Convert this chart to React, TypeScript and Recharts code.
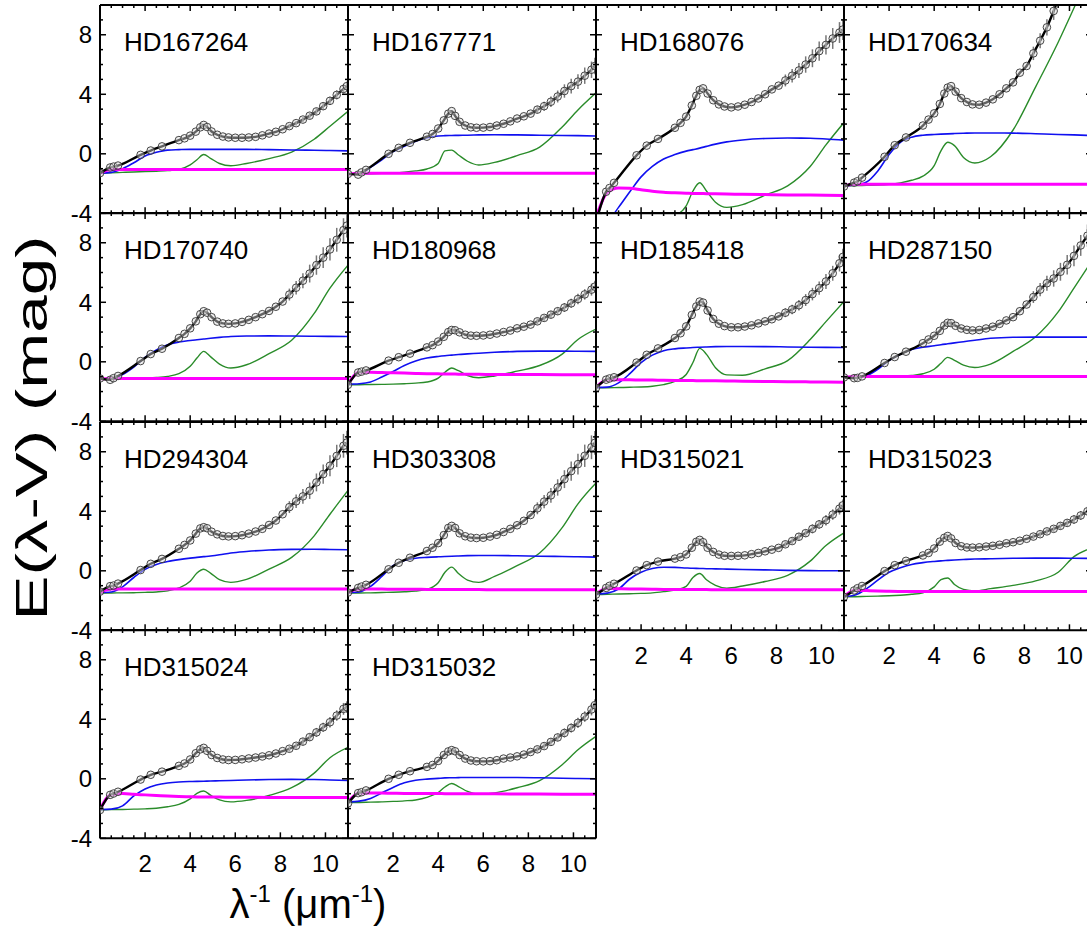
import { ComposedChart, Line, Scatter, XAxis, YAxis, ReferenceLine } from "recharts";

const stars = [
  "HD167264", "HD167771", "HD168076", "HD170634",
  "HD170740", "HD180968", "HD185418", "HD287150",
  "HD294304", "HD303308", "HD315021", "HD315023",
  "HD315024", "HD315032",
];

// wavenumbers of the observed points (circles) and of the model components
const xObs = [0, 0.45, 0.6, 0.8, 1.8, 2.25, 2.75, 3.5, 3.75, 4.0, 4.25, 4.45, 4.6, 4.75, 4.95, 5.2, 5.45, 5.7, 6.0, 6.3, 6.6, 6.9, 7.2, 7.5, 7.8, 8.1, 8.4, 8.7, 9.0, 9.3, 9.6, 9.9, 10.2, 10.5, 10.8, 10.95];
const xFit = [0, 0.5, 1, 1.5, 2, 2.5, 3, 3.5, 4, 4.3, 4.6, 4.9, 5.3, 5.8, 6.5, 7.5, 8.5, 9.5, 10.2, 11];
// first index of the points that carry error bars (x >= 8.4)
const ERR_FROM = 26;

const obsVals = [
  [-1.3, -0.92, -0.86, -0.79, -0.07, 0.22, 0.5, 0.92, 1.04, 1.22, 1.49, 1.78, 1.94, 1.8, 1.5, 1.28, 1.16, 1.1, 1.08, 1.08, 1.1, 1.14, 1.24, 1.36, 1.48, 1.65, 1.86, 2.06, 2.3, 2.56, 2.85, 3.2, 3.56, 3.96, 4.36, 4.55],
  [-1.35, -1.4, -1.25, -1.08, 0.0, 0.4, 0.74, 1.15, 1.33, 1.7, 2.25, 2.7, 2.87, 2.55, 2.15, 1.9, 1.78, 1.75, 1.76, 1.8, 1.9, 2.02, 2.18, 2.37, 2.52, 2.7, 2.97, 3.2, 3.5, 3.85, 4.22, 4.55, 4.85, 5.25, 5.65, 5.9],
  [-4.6, -2.55, -2.3, -1.95, -0.1, 0.55, 1.0, 1.75, 2.08, 2.5, 3.25, 3.9, 4.3, 4.4, 4.05, 3.6, 3.32, 3.18, 3.12, 3.18, 3.3, 3.48, 3.72, 4.0, 4.33, 4.58, 4.93, 5.25, 5.6, 6.0, 6.42, 6.9, 7.32, 7.75, 8.15, 8.35],
  [-2.2, -1.94, -1.84, -1.6, -0.2, 0.58, 1.1, 1.9, 2.3, 2.72, 3.35, 4.05, 4.45, 4.55, 4.18, 3.74, 3.48, 3.32, 3.3, 3.44, 3.66, 4.0, 4.4, 4.8, 5.45, 5.9, 6.75, 7.6, 8.5, 9.6, 10.8, 11.6, 12.4, 13.2, 14.0, 14.4],
  [-1.12, -1.21, -1.1, -0.95, 0.05, 0.52, 0.88, 1.6, 1.88, 2.25, 2.72, 3.2, 3.4, 3.3, 3.0, 2.7, 2.58, 2.55, 2.58, 2.68, 2.82, 3.0, 3.2, 3.42, 3.7, 4.05, 4.52, 4.98, 5.45, 5.93, 6.5, 7.0, 7.55, 8.2, 8.85, 9.15],
  [-1.55, -0.72, -0.66, -0.58, 0.08, 0.31, 0.55, 0.97, 1.12, 1.36, 1.68, 2.0, 2.14, 2.12, 1.98, 1.82, 1.76, 1.75, 1.77, 1.82, 1.9, 2.0, 2.1, 2.25, 2.36, 2.5, 2.72, 2.95, 3.17, 3.4, 3.65, 3.93, 4.22, 4.53, 4.85, 5.05],
  [-1.75, -1.2, -1.12, -1.04, -0.05, 0.47, 0.9, 1.6, 1.92, 2.38, 3.15, 3.72, 4.05, 3.98, 3.45, 2.88, 2.56, 2.4, 2.32, 2.32, 2.37, 2.45, 2.58, 2.72, 2.86, 3.05, 3.3, 3.52, 3.8, 4.15, 4.55, 4.95, 5.4, 5.95, 6.62, 7.05],
  [-1.05, -1.1, -1.08, -0.98, -0.08, 0.32, 0.68, 1.25, 1.5, 1.75, 2.08, 2.44, 2.62, 2.6, 2.42, 2.24, 2.15, 2.11, 2.14, 2.24, 2.36, 2.55, 2.78, 3.0, 3.4, 3.85, 4.35, 4.85, 5.28, 5.6, 6.05, 6.52, 7.12, 7.82, 8.48, 8.85],
  [-1.4, -1.03, -0.99, -0.86, 0.05, 0.47, 0.8, 1.48, 1.74, 2.04, 2.5, 2.85, 2.93, 2.86, 2.63, 2.45, 2.34, 2.31, 2.33, 2.39, 2.5, 2.64, 2.82, 3.08, 3.38, 3.8, 4.28, 4.67, 5.0, 5.38, 5.94, 6.5, 7.06, 7.72, 8.4, 8.62],
  [-1.46, -1.15, -1.06, -0.94, 0.1, 0.54, 0.88, 1.33, 1.55, 1.86, 2.4, 2.88, 3.02, 2.88, 2.52, 2.32, 2.23, 2.2, 2.22, 2.3, 2.42, 2.61, 2.82, 3.06, 3.36, 3.75, 4.2, 4.65, 5.07, 5.6, 6.16, 6.7, 7.17, 7.73, 8.3, 8.6],
  [-1.6, -1.15, -1.01, -0.87, 0.02, 0.38, 0.62, 0.82, 0.92, 1.1, 1.55, 1.95, 2.08, 1.92, 1.55, 1.27, 1.09, 1.01, 1.0, 1.01, 1.04, 1.12, 1.2, 1.31, 1.42, 1.54, 1.78, 2.0, 2.29, 2.53, 2.82, 3.12, 3.4, 3.78, 4.18, 4.4],
  [-1.75, -1.32, -1.17, -1.02, -0.02, 0.38, 0.67, 1.03, 1.2, 1.5, 1.96, 2.22, 2.34, 2.18, 1.87, 1.65, 1.57, 1.56, 1.58, 1.63, 1.68, 1.75, 1.85, 1.92, 2.02, 2.15, 2.3, 2.46, 2.65, 2.82, 3.02, 3.22, 3.45, 3.72, 4.0, 4.15],
  [-2.1, -1.08, -0.99, -0.87, -0.05, 0.27, 0.48, 0.87, 1.03, 1.3, 1.72, 1.98, 2.08, 1.88, 1.6, 1.4, 1.3, 1.26, 1.27, 1.31, 1.37, 1.43, 1.5, 1.58, 1.7, 1.86, 2.02, 2.22, 2.5, 2.8, 3.12, 3.46, 3.8, 4.25, 4.7, 4.82],
  [-1.65, -0.96, -0.9, -0.78, 0.0, 0.27, 0.51, 0.8, 0.93, 1.2, 1.6, 1.84, 1.93, 1.85, 1.6, 1.36, 1.23, 1.18, 1.17, 1.19, 1.25, 1.36, 1.43, 1.51, 1.63, 1.8, 1.98, 2.2, 2.48, 2.78, 3.08, 3.42, 3.76, 4.18, 4.66, 4.95],
];

// error bars of the last ten points (x >= 8.4)
const errTail = [
  [0.15, 0.15, 0.18, 0.2, 0.22, 0.25, 0.28, 0.3, 0.3, 0.3],
  [0.25, 0.3, 0.35, 0.4, 0.45, 0.5, 0.5, 0.55, 0.55, 0.55],
  [0.4, 0.45, 0.5, 0.55, 0.6, 0.65, 0.65, 0.7, 0.7, 0.7],
  [0.45, 0.5, 0.55, 0.6, 0.65, 0.7, 0.7, 0.7, 0.7, 0.7],
  [0.4, 0.45, 0.5, 0.6, 0.65, 0.7, 0.75, 0.8, 0.8, 0.8],
  [0.2, 0.2, 0.25, 0.25, 0.3, 0.3, 0.35, 0.35, 0.4, 0.4],
  [0.3, 0.32, 0.35, 0.4, 0.42, 0.45, 0.5, 0.5, 0.55, 0.55],
  [0.4, 0.45, 0.5, 0.55, 0.6, 0.65, 0.7, 0.7, 0.75, 0.75],
  [0.4, 0.45, 0.5, 0.55, 0.6, 0.65, 0.7, 0.75, 0.8, 0.8],
  [0.4, 0.45, 0.5, 0.55, 0.6, 0.65, 0.7, 0.75, 0.8, 0.8],
  [0.2, 0.2, 0.25, 0.25, 0.3, 0.3, 0.35, 0.35, 0.4, 0.4],
  [0.18, 0.18, 0.2, 0.2, 0.25, 0.25, 0.28, 0.3, 0.3, 0.3],
  [0.2, 0.2, 0.25, 0.25, 0.3, 0.3, 0.35, 0.35, 0.4, 0.4],
  [0.2, 0.2, 0.25, 0.25, 0.3, 0.3, 0.35, 0.35, 0.4, 0.4],
];

const blueVals = [
  [-1.3, -1.25, -1.0, -0.6, -0.15, 0.1, 0.25, 0.28, 0.3, 0.3, 0.3, 0.3, 0.3, 0.3, 0.3, 0.28, 0.26, 0.24, 0.22, 0.2],
  [-1.37, -1.35, -0.9, -0.4, 0.15, 0.5, 0.85, 1.08, 1.2, 1.22, 1.23, 1.24, 1.25, 1.27, 1.28, 1.27, 1.25, 1.23, 1.22, 1.2],
  [-4.6, -4.5, -3.6, -2.55, -1.55, -0.85, -0.35, -0.05, 0.18, 0.28, 0.38, 0.5, 0.65, 0.8, 0.93, 1.03, 1.06, 1.05, 1.0, 0.92],
  [-2.15, -2.1, -1.9, -1.15, -0.05, 0.77, 1.12, 1.25, 1.3, 1.32, 1.34, 1.36, 1.38, 1.4, 1.4, 1.39, 1.35, 1.3, 1.27, 1.23],
  [-1.14, -1.12, -0.85, -0.35, 0.3, 0.8, 1.15, 1.33, 1.43, 1.48, 1.53, 1.58, 1.64, 1.7, 1.73, 1.74, 1.73, 1.72, 1.71, 1.7],
  [-1.5, -1.47, -1.35, -1.02, -0.65, -0.25, 0.05, 0.25, 0.36, 0.41, 0.45, 0.49, 0.53, 0.58, 0.64, 0.7, 0.72, 0.72, 0.71, 0.7],
  [-1.72, -1.7, -1.42, -0.8, -0.05, 0.45, 0.75, 0.87, 0.93, 0.96, 0.98, 1.0, 1.02, 1.03, 1.03, 1.02, 1.0, 0.98, 0.97, 0.96],
  [-1.05, -1.02, -0.92, -0.5, 0.1, 0.5, 0.82, 0.98, 1.08, 1.15, 1.21, 1.27, 1.35, 1.45, 1.58, 1.65, 1.66, 1.66, 1.66, 1.66],
  [-1.46, -1.42, -1.08, -0.45, 0.1, 0.43, 0.62, 0.75, 0.85, 0.9, 0.95, 1.0, 1.08, 1.2, 1.3, 1.4, 1.44, 1.45, 1.43, 1.41],
  [-1.46, -1.42, -1.05, -0.38, 0.35, 0.7, 0.84, 0.9, 0.94, 0.96, 0.98, 1.0, 1.02, 1.03, 1.03, 1.01, 0.98, 0.96, 0.94, 0.92],
  [-1.57, -1.5, -1.22, -0.55, -0.1, 0.15, 0.24, 0.23, 0.19, 0.17, 0.16, 0.14, 0.13, 0.11, 0.09, 0.06, 0.03, 0.01, 0.0, 0.0],
  [-1.73, -1.62, -1.2, -0.62, -0.1, 0.2, 0.43, 0.55, 0.63, 0.67, 0.7, 0.73, 0.76, 0.79, 0.81, 0.84, 0.85, 0.85, 0.84, 0.83],
  [-2.06, -2.04, -1.82, -1.15, -0.68, -0.42, -0.28, -0.21, -0.18, -0.17, -0.16, -0.15, -0.13, -0.11, -0.08, -0.05, -0.04, -0.05, -0.08, -0.11],
  [-1.55, -1.5, -1.32, -0.95, -0.58, -0.27, -0.1, -0.02, 0.03, 0.06, 0.07, 0.08, 0.09, 0.09, 0.09, 0.09, 0.07, 0.04, 0.02, 0.0],
];

const greenVals = [
  [-1.3, -1.28, -1.25, -1.22, -1.2, -1.17, -1.13, -1.05, -0.75, -0.4, -0.05, -0.3, -0.65, -0.8, -0.65, -0.32, 0.12, 0.98, 1.85, 2.85],
  [-1.37, -1.36, -1.34, -1.31, -1.28, -1.23, -1.15, -1.02, -0.65, 0.2, 0.25, -0.08, -0.5, -0.75, -0.58, -0.12, 0.45, 1.8, 2.95, 4.1],
  [-4.5, -4.5, -4.5, -4.5, -4.5, -4.5, -4.5, -4.2, -3.5, -2.5, -1.95, -2.5, -3.25, -3.6, -3.42, -2.78, -2.15, -0.85, 0.6, 2.1],
  [-2.15, -2.14, -2.12, -2.1, -2.05, -1.95, -1.78, -1.5, -0.8, 0.2, 0.78, 0.55, -0.25, -0.62, -0.2, 1.6, 4.5, 7.5, 9.8, 12.5],
  [-1.14, -1.13, -1.12, -1.1, -1.08, -1.05, -0.98, -0.8, -0.3, 0.25, 0.7, 0.35, -0.15, -0.42, -0.2, 0.55, 1.45, 3.25, 4.95, 6.5],
  [-1.55, -1.54, -1.53, -1.52, -1.5, -1.47, -1.43, -1.36, -1.1, -0.7, -0.42, -0.6, -0.92, -1.07, -0.95, -0.63, -0.25, 0.52, 1.5, 2.2],
  [-1.75, -1.74, -1.73, -1.71, -1.69, -1.64, -1.53, -1.32, -0.85, -0.05, 0.9, 0.5, -0.4, -0.88, -0.9, -0.47, 0.08, 1.5, 2.7, 4.05],
  [-1.05, -1.04, -1.03, -1.02, -1.0, -0.97, -0.92, -0.8, -0.5, -0.1, 0.3, 0.1, -0.22, -0.38, -0.15, 0.7, 1.68, 3.35, 4.95, 6.8],
  [-1.5, -1.49, -1.48, -1.47, -1.45, -1.42, -1.35, -1.15, -0.7, -0.15, 0.1, -0.15, -0.6, -0.78, -0.58, 0.12, 0.9, 2.35, 3.8, 5.4],
  [-1.5, -1.49, -1.48, -1.46, -1.44, -1.41, -1.36, -1.25, -0.8, -0.1, 0.25, -0.18, -0.62, -0.78, -0.38, 0.35, 1.2, 2.9, 4.5, 5.9],
  [-1.6, -1.58, -1.56, -1.54, -1.52, -1.48, -1.4, -1.3, -1.05, -0.45, -0.18, -0.6, -0.98, -1.17, -1.02, -0.72, -0.3, 0.65, 1.7, 2.55],
  [-1.75, -1.74, -1.72, -1.7, -1.68, -1.64, -1.58, -1.48, -1.08, -0.6, -0.48, -0.92, -1.25, -1.35, -1.2, -0.98, -0.68, -0.1, 0.95, 1.55],
  [-2.08, -2.07, -2.06, -2.04, -2.02, -1.98, -1.88, -1.72, -1.35, -0.98, -0.82, -1.1, -1.42, -1.55, -1.45, -1.12, -0.6, 0.38, 1.42, 2.12],
  [-1.6, -1.59, -1.57, -1.55, -1.52, -1.48, -1.42, -1.25, -0.92, -0.55, -0.32, -0.52, -0.85, -1.03, -0.95, -0.6, -0.12, 0.95, 1.95, 2.85],
];

const magentaVals = [
  [-1.3, -1.05, -1.05, -1.05, -1.05, -1.05, -1.05, -1.05, -1.05, -1.05, -1.05, -1.05, -1.05, -1.05, -1.05, -1.05, -1.05, -1.05, -1.05, -1.05],
  [-1.37, -1.3, -1.3, -1.3, -1.3, -1.3, -1.3, -1.3, -1.3, -1.3, -1.3, -1.3, -1.3, -1.3, -1.3, -1.3, -1.3, -1.3, -1.3, -1.3],
  [-4.3, -2.6, -2.3, -2.32, -2.42, -2.52, -2.58, -2.62, -2.65, -2.66, -2.67, -2.68, -2.69, -2.7, -2.72, -2.74, -2.76, -2.77, -2.78, -2.8],
  [-2.15, -2.05, -2.05, -2.05, -2.05, -2.05, -2.05, -2.05, -2.05, -2.05, -2.05, -2.05, -2.05, -2.05, -2.05, -2.05, -2.05, -2.05, -2.05, -2.05],
  [-1.14, -1.12, -1.12, -1.12, -1.12, -1.12, -1.12, -1.12, -1.12, -1.12, -1.12, -1.12, -1.12, -1.12, -1.12, -1.12, -1.12, -1.12, -1.12, -1.12],
  [-1.5, -0.7, -0.7, -0.72, -0.74, -0.76, -0.78, -0.8, -0.81, -0.82, -0.82, -0.83, -0.83, -0.84, -0.85, -0.86, -0.86, -0.87, -0.87, -0.87],
  [-1.72, -1.2, -1.2, -1.21, -1.22, -1.23, -1.24, -1.25, -1.26, -1.26, -1.27, -1.27, -1.28, -1.29, -1.3, -1.32, -1.34, -1.35, -1.36, -1.37],
  [-1.05, -0.99, -0.99, -0.99, -0.99, -0.99, -0.99, -0.99, -0.99, -0.99, -0.99, -0.99, -0.99, -0.99, -0.99, -0.99, -0.99, -0.99, -0.99, -0.99],
  [-1.46, -1.23, -1.23, -1.23, -1.23, -1.23, -1.23, -1.23, -1.23, -1.23, -1.23, -1.23, -1.23, -1.23, -1.23, -1.23, -1.23, -1.23, -1.23, -1.23],
  [-1.46, -1.23, -1.23, -1.23, -1.24, -1.24, -1.24, -1.25, -1.25, -1.25, -1.25, -1.26, -1.26, -1.26, -1.27, -1.27, -1.27, -1.28, -1.28, -1.28],
  [-1.57, -1.18, -1.2, -1.22, -1.23, -1.24, -1.25, -1.25, -1.26, -1.26, -1.26, -1.26, -1.27, -1.27, -1.27, -1.27, -1.28, -1.28, -1.28, -1.28],
  [-1.73, -1.3, -1.33, -1.36, -1.38, -1.39, -1.39, -1.39, -1.39, -1.39, -1.39, -1.39, -1.39, -1.39, -1.39, -1.39, -1.39, -1.39, -1.39, -1.39],
  [-2.06, -1.05, -0.99, -1.04, -1.08, -1.12, -1.16, -1.19, -1.21, -1.22, -1.22, -1.23, -1.23, -1.24, -1.24, -1.25, -1.25, -1.26, -1.26, -1.26],
  [-1.55, -0.96, -0.95, -0.96, -0.97, -0.98, -0.98, -0.99, -0.99, -1.0, -1.0, -1.0, -1.0, -1.01, -1.01, -1.02, -1.02, -1.03, -1.03, -1.03],
];

const xTicks = [0, 0.5, 1, 1.5, 2, 2.5, 3, 3.5, 4, 4.5, 5, 5.5, 6, 6.5, 7, 7.5, 8, 8.5, 9, 9.5, 10, 10.5, 11];
const xMajor = [0, 2, 4, 6, 8, 10];
const xLabels = [2, 4, 6, 8, 10];
const yTicks = [-4, -3, -2, -1, 0, 1, 2, 3, 4, 5, 6, 7, 8, 9, 10];
const yMajor = [-4, 0, 4, 8];
const yLabels = [-4, 0, 4, 8];

const PW = 248;
const PH = 208.33;
const ML = 60;
const MR = 8;
const MT = 8;
const MB = 50;
const colLeft = [100, 348, 596, 844];
const rowTop = [5, 213.33, 421.67, 630];

const FONT = "'Liberation Sans', Arial, sans-serif";
const frame = { stroke: "#000", strokeWidth: 2 };

type Side = "bottom" | "top" | "left" | "right";

function makeTick(side: Side, labelled: boolean) {
  return (p: any) => {
    const { x, y, payload } = p;
    const v = payload.value;
    const horiz = side === "bottom" || side === "top";
    const major = horiz ? xMajor.includes(v) : yMajor.includes(v);
    const len = major ? 6 : 3;
    let x2 = x;
    let y2 = y;
    if (side === "bottom") y2 = y - len;
    if (side === "top") y2 = y + len;
    if (side === "left") x2 = x + len;
    if (side === "right") x2 = x - len;
    let label = null;
    if (labelled && side === "bottom" && xLabels.includes(v)) {
      label = (
        <text x={x} y={y + 34} textAnchor="middle" fontSize={24} fontFamily={FONT} fill="#000">
          {v}
        </text>
      );
    }
    if (labelled && side === "left" && yLabels.includes(v)) {
      label = (
        <text x={x - 8} y={y + 8.5} textAnchor="end" fontSize={24} fontFamily={FONT} fill="#000">
          {v}
        </text>
      );
    }
    return (
      <g>
        <line x1={x} y1={y} x2={x2} y2={y2} stroke="#000" strokeWidth={1.5} />
        {label}
      </g>
    );
  };
}

const circleShape = (p: any) => (
  <circle cx={p.cx} cy={p.cy} r={3.8} fill="#dcdcdc" fillOpacity={0.45} stroke="#333" strokeWidth={0.9} />
);

function Panel({ idx }: { idx: number }) {
  const row = Math.floor(idx / 4);
  const col = idx % 4;
  const showX = row === 3 || (row === 2 && col >= 2);
  const showY = col === 0;
  const obs = xObs.map((x, i) => ({ x, y: obsVals[idx][i] }));
  const comp = (vals: number[]) => xFit.map((x, i) => ({ x, y: vals[i] }));
  // each error bar is a vertical segment given in data units
  const errSegs = errTail[idx]
    .map((e, k) => {
      const i = ERR_FROM + k;
      const v = obsVals[idx][i];
      return [
        { x: xObs[i], y: Math.max(v - e, -4) },
        { x: xObs[i], y: Math.min(v + e, 10) },
      ];
    })
    .filter((seg) => seg[0].y < seg[1].y);

  const xCommon = {
    type: "number" as const,
    dataKey: "x",
    domain: [0, 11],
    allowDataOverflow: true,
    mirror: true,
    height: 1,
    ticks: xTicks,
    interval: 0,
    tickSize: 0,
    tickMargin: 0,
    tickLine: false,
    axisLine: frame,
  };
  const yCommon = {
    type: "number" as const,
    domain: [-4, 10],
    allowDataOverflow: true,
    mirror: true,
    width: 1,
    ticks: yTicks,
    interval: 0,
    tickSize: 0,
    tickMargin: 0,
    tickLine: false,
    axisLine: frame,
  };

  return (
    <div style={{ position: "absolute", left: colLeft[col] - ML, top: rowTop[row] - MT }}>
      <ComposedChart
        width={PW + ML + MR}
        height={PH + MT + MB}
        margin={{ top: MT, right: MR, bottom: MB, left: ML }}
      >
        <XAxis xAxisId="b" orientation="bottom" {...xCommon} tick={makeTick("bottom", showX)} />
        <XAxis xAxisId="t" orientation="top" {...xCommon} tick={makeTick("top", false)} />
        <YAxis yAxisId="l" orientation="left" dataKey="y" {...yCommon} tick={makeTick("left", showY)} />
        <YAxis yAxisId="r" orientation="right" {...yCommon} tick={makeTick("right", false)} />
        <Line xAxisId="b" yAxisId="l" data={comp(greenVals[idx])} dataKey="y" type="monotone"
          stroke="#2a8c2a" strokeWidth={1.4} dot={false} isAnimationActive={false} />
        <Line xAxisId="b" yAxisId="l" data={comp(blueVals[idx])} dataKey="y" type="monotone"
          stroke="#1010f0" strokeWidth={1.6} dot={false} isAnimationActive={false} />
        <Line xAxisId="b" yAxisId="l" data={comp(magentaVals[idx])} dataKey="y" type="monotone"
          stroke="#ff00ff" strokeWidth={3} dot={false} isAnimationActive={false} />
        <Line xAxisId="b" yAxisId="l" data={obs} dataKey="y" type="monotone"
          stroke="#000" strokeWidth={2.4} dot={false} isAnimationActive={false} />
        {errSegs.map((seg, k) => (
          <ReferenceLine key={`err${k}`} xAxisId="b" yAxisId="l" segment={seg}
            stroke="#777" strokeWidth={1.5} ifOverflow="visible" />
        ))}
        <Scatter xAxisId="b" yAxisId="l" data={obs} dataKey="y" shape={circleShape} isAnimationActive={false} />
      </ComposedChart>
    </div>
  );
}

export default function App() {
  return (
    <div style={{ position: "relative", width: 1087, height: 938, background: "#fff", overflow: "hidden" }}>
      <style>{"body{margin:0}"}</style>
      {stars.map((s, i) => (
        <Panel key={s} idx={i} />
      ))}
      <svg width={1087} height={938} style={{ position: "absolute", left: 0, top: 0, pointerEvents: "none" }}>
        {stars.map((s, i) => (
          <text key={s} x={colLeft[i % 4] + 24} y={rowTop[Math.floor(i / 4)] + 46}
            fontSize={26} fontFamily={FONT} fill="#000">
            {s}
          </text>
        ))}
        <text transform="translate(47,428) rotate(-90)" textAnchor="middle" fontSize={44}
          fontFamily={FONT} textLength={385} lengthAdjust="spacingAndGlyphs" fill="#000">
          E(λ-V) (mag)
        </text>
        <text x={308} y={918} textAnchor="middle" fontSize={40} fontFamily={FONT} fill="#000">
          λ<tspan fontSize={24} dy={-16}>-1</tspan>
          <tspan dy={16}> (μm</tspan>
          <tspan fontSize={24} dy={-16}>-1</tspan>
          <tspan dy={16}>)</tspan>
        </text>
      </svg>
    </div>
  );
}
